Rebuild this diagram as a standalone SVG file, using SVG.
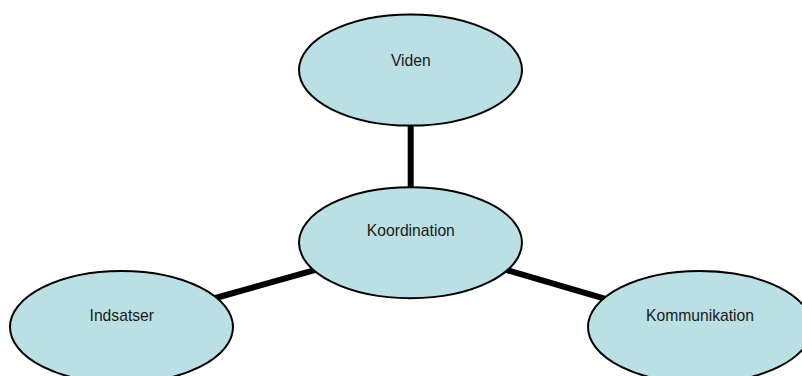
<svg xmlns="http://www.w3.org/2000/svg" width="802" height="376" viewBox="0 0 802 376">
<style>
.node ellipse{fill:#BAE0E3;stroke:#000;stroke-width:2}
.node text{font-family:"Liberation Sans",Arial,sans-serif;font-size:15.7px;fill:#1a1a1a;text-anchor:middle}
.conn line{stroke:#000;stroke-width:6;stroke-linecap:butt}
</style>
<rect width="802" height="376" fill="#fff"/>
<g id="connectors" class="conn">
<line x1="410.7" y1="120" x2="410.7" y2="192"/>
<line x1="212" y1="299" x2="320" y2="268.6"/>
<line x1="502" y1="268.7" x2="608" y2="299.6"/>
</g>
<g id="viden" class="node">
<ellipse cx="410.5" cy="70" rx="111.5" ry="55.6"/>
<text x="410.8" y="65.7">Viden</text>
</g>
<g id="koordination" class="node">
<ellipse cx="410.5" cy="242.7" rx="111.5" ry="55.5"/>
<text x="410.8" y="236">Koordination</text>
</g>
<g id="indsatser" class="node">
<ellipse cx="121.5" cy="327" rx="111.5" ry="56"/>
<text x="121.8" y="321.3">Indsatser</text>
</g>
<g id="kommunikation" class="node">
<ellipse cx="700" cy="327" rx="112" ry="56"/>
<text x="700" y="321.3">Kommunikation</text>
</g>
</svg>
